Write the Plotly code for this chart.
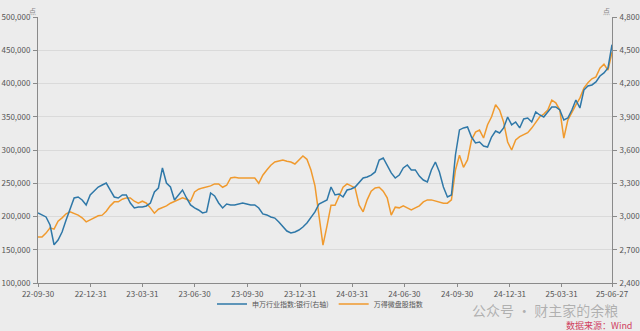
import pandas as pd
import plotly.graph_objects as go

# weekly observation dates (Fridays)
dates = pd.date_range("2022-09-30", periods=144, freq="7D")

bank_index = [
    3032, 3014, 2996, 2923, 2745, 2788, 2860, 2968, 3059, 3167,
    3176, 3149, 3104, 3194, 3230, 3266, 3284, 3302, 3239, 3176,
    3167, 3194, 3194, 3122, 3077, 3086, 3086, 3095, 3122, 3221,
    3257, 3438, 3302, 3266, 3149, 3194, 3239, 3167, 3104, 3077,
    3059, 3032, 3041, 3212, 3185, 3122, 3077, 3113, 3104, 3104,
    3113, 3122, 3113, 3104, 3104, 3077, 3023, 3014, 2996, 2986,
    2950, 2905, 2869, 2851, 2860, 2878, 2905, 2941, 2986, 3041,
    3113, 3131, 3149, 3266, 3194, 3203, 3176, 3239, 3248, 3266,
    3311, 3347, 3356, 3374, 3402, 3510, 3528, 3465, 3393, 3347,
    3374, 3438, 3465, 3420, 3420, 3365, 3329, 3311, 3420, 3492,
    3402, 3266, 3176, 3194, 3555, 3781, 3799, 3808, 3717, 3663,
    3672, 3636, 3627, 3717, 3771, 3753, 3799, 3898, 3826, 3853,
    3799, 3880, 3889, 3853, 3943, 3916, 3898, 3943, 3988, 3988,
    3961, 3871, 3889, 3961, 4051, 3979, 4141, 4178, 4187, 4214,
    4268, 4295, 4340, 4550,
]

microcap_index = [
    169000, 169000, 175000, 183000, 181000, 193000, 198000, 204000, 207000, 205000,
    202000, 198000, 192000, 195000, 198000, 201000, 202000, 208000, 216000, 222000,
    222000, 226000, 228000, 228000, 223000, 220000, 223000, 220000, 213000, 205000,
    211000, 213000, 216000, 220000, 223000, 226000, 228000, 226000, 223000, 237000,
    241000, 243000, 244000, 246000, 249000, 249000, 244000, 247000, 258000, 259000,
    258000, 258000, 259000, 259000, 258000, 250000, 262000, 270000, 277000, 282000,
    283000, 285000, 283000, 282000, 279000, 285000, 291000, 286000, 270000, 246000,
    202000, 157000, 186000, 217000, 217000, 231000, 244000, 249000, 246000, 243000,
    217000, 207000, 225000, 238000, 243000, 244000, 238000, 228000, 202000, 214000,
    213000, 216000, 213000, 210000, 213000, 216000, 222000, 225000, 225000, 223000,
    222000, 220000, 220000, 225000, 270000, 292000, 274000, 285000, 315000, 327000,
    330000, 318000, 338000, 350000, 368000, 360000, 342000, 312000, 300000, 315000,
    320000, 323000, 326000, 333000, 342000, 350000, 354000, 360000, 375000, 371000,
    360000, 318000, 345000, 357000, 368000, 378000, 393000, 401000, 407000, 410000,
    423000, 429000, 420000, 447000,
]

tick_dates = ["2022-09-30", "2022-12-31", "2023-03-31", "2023-06-30", "2023-09-30",
              "2023-12-31", "2024-03-31", "2024-06-30", "2024-09-30", "2024-12-31",
              "2025-03-31", "2025-06-27"]
tick_labels = ["22-09-30", "22-12-31", "23-03-31", "23-06-30", "23-09-30", "23-12-31",
               "24-03-31", "24-06-30", "24-09-30", "24-12-31", "25-03-31", "25-06-27"]

series_names = ["申万行业指数:银行(右轴)", "万得微盘股指数"]
BLUE = "#2f78a8"
ORANGE = "#f09a2e"
FONT = "Noto Sans CJK SC, Noto Sans, sans-serif"
AXIS_COL = "#8a8a8a"
TXT = "#555555"

fig = go.Figure()
fig.add_trace(go.Scatter(x=dates, y=bank_index, name=series_names[0], yaxis="y2",
                         mode="lines", line=dict(color=BLUE, width=1.5)))
fig.add_trace(go.Scatter(x=dates, y=microcap_index, name=series_names[1], yaxis="y",
                         mode="lines", line=dict(color=ORANGE, width=1.5)))

fig.update_layout(
    width=640, height=331,
    margin=dict(l=38, r=28, t=17, b=48, autoexpand=False),
    paper_bgcolor="#ececec", plot_bgcolor="#ececec",
    font=dict(family=FONT, size=8, color=TXT),
    showlegend=True,
    legend=dict(orientation="h", xref="container", yref="container",
                x=0.5, xanchor="center", y=1 - 304 / 331, yanchor="middle",
                font=dict(size=7, color=TXT), bgcolor="rgba(0,0,0,0)",
                itemwidth=30, tracegroupgap=0),
    xaxis=dict(type="date", range=["2022-09-30", "2025-06-27"],
               tickvals=tick_dates, ticktext=tick_labels, automargin=False,
               showgrid=False, showline=True, linecolor=AXIS_COL, linewidth=1,
               ticks="outside", ticklen=3, tickcolor=AXIS_COL,
               tickfont=dict(size=8, color=TXT), zeroline=False),
    yaxis=dict(range=[100000, 500000], dtick=50000, tickformat=",", automargin=False,
               showgrid=True, gridcolor="#dadada", gridwidth=1,
               showline=True, linecolor=AXIS_COL, linewidth=1,
               ticks="outside", ticklen=4, tickcolor=AXIS_COL, ticklabelstandoff=1,
               tickfont=dict(size=8, color=TXT), zeroline=False),
    yaxis2=dict(range=[2400, 4800], dtick=300, tickformat=",", overlaying="y",
                side="right", showgrid=False, automargin=False,
                showline=True, linecolor=AXIS_COL, linewidth=1,
                ticks="outside", ticklen=4, tickcolor=AXIS_COL, ticklabelstandoff=1,
                tickfont=dict(size=8, color=TXT), zeroline=False),
    annotations=[
        dict(text="点", xref="paper", yref="paper", x=0.0, y=1.0, yshift=13,
             showarrow=False, font=dict(size=7, color="#888888"), xanchor="right"),
        dict(text="点", xref="paper", yref="paper", x=1.0, y=1.0, yshift=13,
             showarrow=False, font=dict(size=7, color="#888888"), xanchor="right"),
        dict(text="公众号 · 财主家的余粮", xref="paper", yref="paper",
             x=(620 - 38) / 574, y=(283 - 310) / 266, yanchor="middle", xanchor="right",
             showarrow=False, font=dict(size=14, color="rgba(150,150,150,0.7)")),
        dict(text="数据来源：Wind", xref="paper", yref="paper",
             x=(634 - 38) / 574, y=(283 - 325) / 266, yanchor="middle", xanchor="right",
             showarrow=False, font=dict(size=9, color="#d0405f")),
    ],
)

fig.write_html("out.html")
